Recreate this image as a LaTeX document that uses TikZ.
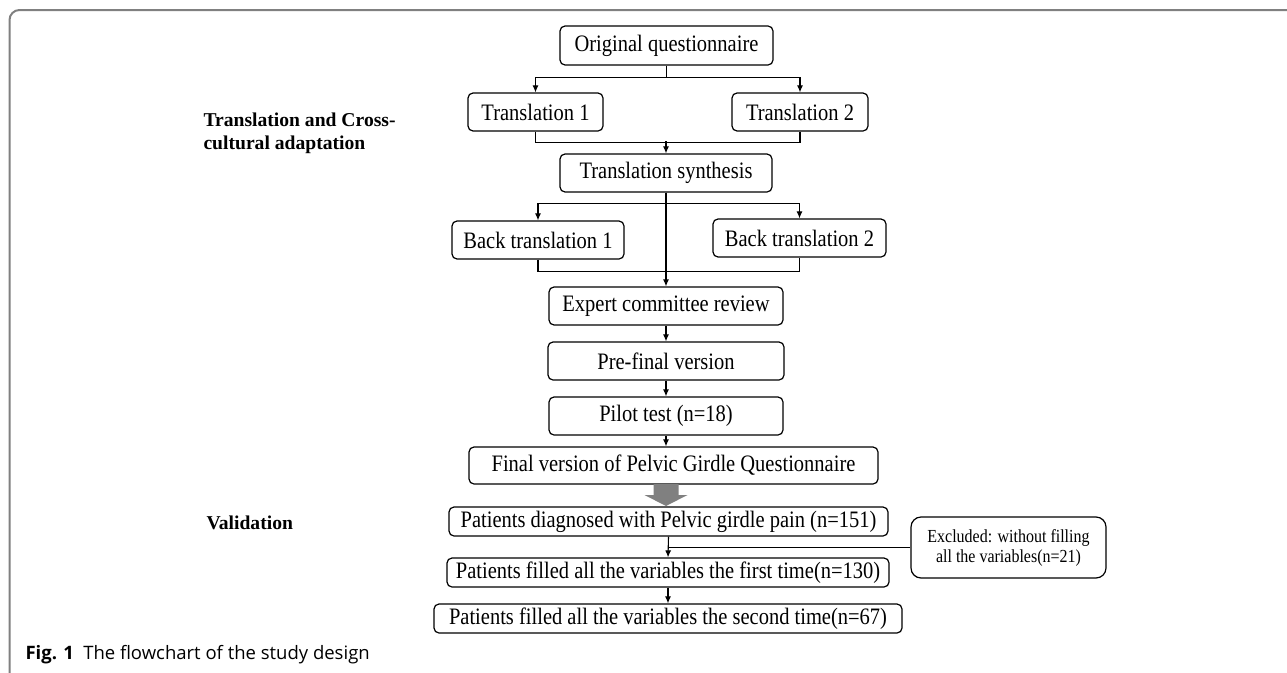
\documentclass[tikz,border=0pt]{standalone}
\usepackage{graphicx}
\usepackage{fontspec}
\setmainfont{Liberation Serif}
\newfontfamily\capfont{Open Sans}
\usetikzlibrary{arrows.meta}
\definecolor{framegray}{HTML}{808080}
\newcommand{\tallt}[1]{\scalebox{1}[1.15]{#1}}
\begin{document}
\begin{tikzpicture}[x=1pt,y=-1pt,
    box/.style={draw,line width=1.2pt,rounded corners=5pt,inner sep=0pt,minimum height=38pt,font=\fontsize{20.5}{24}\selectfont},
    arr/.style={line width=1.1pt,-{Latex[length=7pt,width=6pt]}},
    ln/.style={line width=1.1pt}]
  \useasboundingbox (0,0) rectangle (1287,672);
  \draw [framegray,line width=2pt,rounded corners=10pt] (9.5,690) -- (9.5,10) -- (1300,10);
  % translation and cross-cultural adaptation
  \node[box,minimum width=213pt,minimum height=39pt] (orig) at (666.5,45.5) {\tallt{Original questionnaire}};
  \node[box,minimum width=135pt] (tr1) at (535.5,112) {\tallt{Translation 1}};
  \node[box,minimum width=136pt] (tr2) at (800,112) {\tallt{Translation 2}};
  \node[box,minimum width=212pt] (synth) at (666,173) {\tallt{Translation synthesis}};
  \node[box,minimum width=172pt] (back1) at (538,240) {\tallt{Back translation 1}};
  \node[box,minimum width=173pt] (back2) at (799.5,238) {\tallt{Back translation 2}};
  \node[box,minimum width=234pt] (expert) at (666,306) {\tallt{Expert committee review}};
  \node[box,minimum width=236pt] (prefinal) at (666,361) {\tallt{Pre-final version}};
  \node[box,minimum width=234pt] (pilot) at (666,416) {\tallt{Pilot test (n=18)}};
  \node[box,minimum width=409pt,minimum height=37pt] (final) at (673.5,465.5) {\tallt{Final version of Pelvic Girdle Questionnaire}};
  % validation
  \node[box,minimum width=439pt,minimum height=29pt] (diag) at (668.5,521.5) {\tallt{Patients diagnosed with Pelvic girdle pain (n=151)}};
  \node[box,minimum width=442pt,minimum height=29pt] (first) at (668,572.5) {\tallt{Patients filled all the variables the first time(n=130)}};
  \node[box,minimum width=468pt,minimum height=29pt] (second) at (668,618.5) {\tallt{Patients filled all the variables the second time(n=67)}};
  \node[box,rounded corners=10pt,minimum width=195pt,minimum height=61pt,align=center,font=\fontsize{16}{20}\selectfont] (excl) at (1008.5,547.5) {\tallt{Excluded: without filling}\\\tallt{all the variables(n=21)}};
  \node[anchor=west,align=left,font=\bfseries\fontsize{19.6}{23}\selectfont] (phaseA) at (200,133.5) {Translation and Cross-\\cultural adaptation};
  \node[anchor=west,font=\bfseries\fontsize{19.6}{23}\selectfont] (phaseB) at (203,523) {Validation};
  \node[anchor=west,font=\capfont\fontsize{18.5}{20}\selectfont] (caption) at (22,655) {\textbf{Fig. 1}\hspace{0.5em}The flowchart of the study design};
  % connectors
  \draw [arr] (orig.south) -- ++(0,11.5) -| (tr1.north);
  \draw [arr] (orig.south) -- ++(0,11.5) -| (tr2.north);
  \draw [ln] (tr1.south) -- ++(0,11) -| (tr2.south);
  \draw [arr] ([yshift=12pt]synth.north) -- (synth.north);
  \draw [arr] (synth.south) -- ++(0,11) -| (back1.north);
  \draw [arr] (synth.south) -- ++(0,11) -| (back2.north);
  \draw [ln] (back1.south) -- ++(0,12) -| (back2.south);
  \draw [arr] (synth.south) -- (expert.north);
  \draw [arr] (expert) -- (prefinal);
  \draw [arr] (prefinal) -- (pilot);
  \draw [arr] (pilot.south) -- (pilot.south |- final.north);
  \fill [framegray] (653.5,484) -- (678.5,484) -- (678.5,495) -- (687.5,495) -- (666,506) -- (644.5,495) -- (653.5,495) -- cycle;
  \draw [arr] (diag.south) -- (first.north);
  \draw [ln] (diag.south |- excl.west) -- (excl.west);
  \draw [arr] (first) -- (second);
\end{tikzpicture}
\end{document}
